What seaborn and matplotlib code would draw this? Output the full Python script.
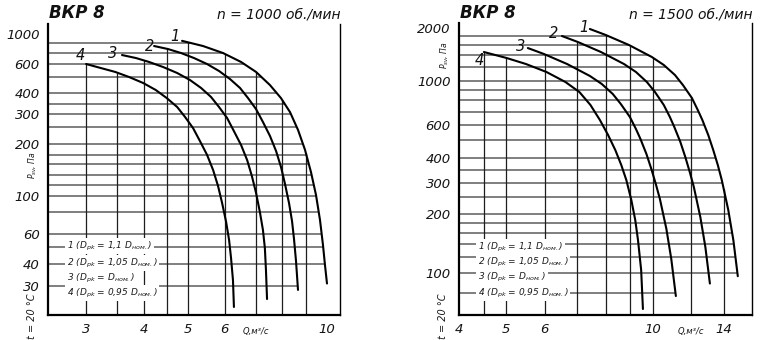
import numpy as np
import pandas as pd
import matplotlib
matplotlib.use('Agg')
import matplotlib.pyplot as plt
from matplotlib.ticker import NullLocator, NullFormatter
import seaborn as sns

# fan curves BKP 8, Q in m3/s, P_sv in Pa
# n = 1000 rpm
q_1000_1 = [4.846, 5.381, 5.948, 6.508, 7.013, 7.519, 7.945, 8.311, 8.650, 8.958, 9.231, 9.464,
            9.655, 9.800, 9.898, 9.998]
p_1000_1 = [890, 815, 723, 621, 537, 447, 373, 308, 242, 185, 137, 101, 72.3, 51.7, 39.5, 31]
q_1000_2 = [4.214, 4.518, 4.823, 5.145, 5.490, 5.830, 6.159, 6.475, 6.739, 7.013, 7.261, 7.519,
            7.752, 7.945, 8.106, 8.270, 8.395, 8.479, 8.564, 8.650]
p_1000_2 = [815, 774, 723, 664, 600, 544, 486, 429, 373, 321, 269, 223, 182, 147,
            117, 90.7, 71.4, 56.1, 41.7, 28.5]
q_1000_3 = [3.59, 3.85, 4.11, 4.41, 4.73, 5.04, 5.33, 5.60, 5.83, 6.07, 6.28, 6.51, 6.71, 6.87,
            7.013, 7.15, 7.26, 7.33, 7.37, 7.41]
p_1000_3 = [699, 664, 621, 575, 529, 480, 429, 379, 330, 284, 238, 197, 161, 130,
            104, 80.4, 63.3, 49.6, 37.0, 25.3]
q_1000_4 = [3.0, 3.23, 3.47, 3.72, 3.99, 4.25, 4.49, 4.73, 4.92, 5.12, 5.30, 5.49, 5.66, 5.80,
            5.92, 6.04, 6.13, 6.19, 6.25, 6.28]
p_1000_4 = [600, 567, 537, 500, 460, 417, 373, 330, 288, 248, 208, 173, 141, 114,
            90.7, 70.4, 55.3, 43.4, 32.4, 22.8]

# n = 1500 rpm
q_1500_1 = [7.43, 8.01, 8.94, 9.96, 10.54, 11.11, 11.54, 12.04, 12.38, 12.65, 13.01, 13.32,
            13.61, 13.87, 14.30, 14.65, 14.96]
p_1500_1 = [1974, 1825, 1601, 1369, 1233, 1082, 954, 821, 714, 636, 530, 441,
            369, 310, 211, 147, 96.5]
q_1500_2 = [6.51, 7.02, 7.83, 8.73, 9.24, 9.73, 10.11, 10.54, 10.85, 11.08, 11.40, 11.67,
            11.92, 12.15, 12.53, 12.83, 13.11]
p_1500_2 = [1801, 1665, 1461, 1249, 1125, 988, 880, 757, 658, 585, 487, 405,
            340, 285, 193, 136, 88.9]
q_1500_3 = [5.54, 5.98, 6.67, 7.43, 7.86, 8.28, 8.60, 8.98, 9.24, 9.44, 9.71, 9.94,
            10.15, 10.35, 10.67, 10.92, 11.16]
p_1500_3 = [1539, 1423, 1249, 1068, 966, 860, 766, 658, 571, 505, 420, 352,
            296, 243, 168, 118, 77.2]
q_1500_4 = [4.5, 5.01, 5.49, 6.05, 6.62, 7.07, 7.45, 7.79, 8.10, 8.38, 8.62, 8.83,
            9.04, 9.21, 9.33, 9.47, 9.55]
p_1500_4 = [1461, 1351, 1249, 1125, 988, 880, 757, 636, 530, 441, 369, 310,
            240, 186, 147, 103.6, 66.3]

curve_names = ['1', '2', '3', '4']
legend_rows = [r'1 ($D_{pk}$ = 1,1 $D_{ном.}$)',
               r'2 ($D_{pk}$ = 1,05 $D_{ном.}$)',
               r'3 ($D_{pk}$ = $D_{ном.}$)',
               r'4 ($D_{pk}$ = 0,95 $D_{ном.}$)']

# tick values / labels
yticks_1000 = [30, 40, 50, 60, 100, 200, 300, 400, 600, 1000]
ylabels_1000 = ['30', '40', '', '60', '100', '200', '300', '400', '600', '1000']
ygrid_1000 = [860, 720, 600, 500, 400, 345, 300, 250, 200, 173, 152, 132, 115,
              100, 80, 60, 50, 40, 30]
xticks_1000 = [3, 3.5, 4, 4.5, 5, 6, 7, 8, 9, 10]
xlabels_1000 = ['3', '', '4', '', '5', '6', '', '', '', '10']
xgrid_1000 = [3, 3.5, 4, 4.5, 5, 6, 7, 8, 9]

yticks_1500 = [80, 100, 200, 300, 400, 600, 1000, 2000]
ylabels_1500 = ['', '100', '200', '300', '400', '600', '1000', '2000']
ygrid_1500 = [1800, 1600, 1400, 1200, 1000, 900, 800, 700, 600, 500, 400, 350,
              300, 250, 200, 180, 160, 140, 120, 100, 80]
xticks_1500 = [4, 4.5, 5, 6, 7, 8, 9, 10, 12, 14, 16]
xlabels_1500 = ['4', '', '5', '6', '', '', '', '10', '', '14', '']
xgrid_1500 = [4.5, 5, 6, 7, 8, 9, 10, 12, 14]

# layout (figure pixels, 760x340)
W, H = 760, 340
# the printed pressure axis is not a clean log scale: pixel rows of labelled ticks
yscale_1000 = ([10, 30, 40, 60, 100, 200, 300, 400, 600, 1000, 3000],
               [370, 286, 264, 234, 195.7, 144, 114, 93, 64, 34, -37.6])
yscale_1500 = ([10, 80, 100, 200, 300, 400, 600, 1000, 2000, 5000],
               [470, 293, 273, 214, 183, 158, 125, 81, 28, -42])


def make_scale(vals, pix):
    lv = np.log10(vals)
    neg = -np.asarray(pix, float)

    def forward(v):
        v = np.asarray(v, float)
        v = np.where(v > 0, v, 1e-6)
        return np.interp(np.log10(v), lv, neg)

    def inverse(y):
        return 10 ** np.interp(np.asarray(y, float), neg, lv)
    return forward, inverse


def frame(curves):
    parts = [pd.DataFrame({'Q': q, 'P': p, 'curve': n}) for n, q, p in curves]
    return pd.concat(parts, ignore_index=True)


def q_edge(p, curves):
    # grid rows stop at the outermost curve
    best = None
    for _, q, pp in curves:
        if min(pp) <= p <= max(pp):
            v = 10 ** np.interp(np.log10(p), np.log10(pp[::-1]), np.log10(q[::-1]))
            best = v if best is None else max(best, v)
    return best


def p_edge(q, curves):
    best = None
    for _, qq, pp in curves:
        if min(qq) <= q <= max(qq):
            v = 10 ** np.interp(np.log10(q), np.log10(qq), np.log10(pp))
            best = v if best is None else max(best, v)
    return best


def draw_panel(fig, px_left, px_right, px_top, curves, yscale, xlim,
               yticks, ylabels, ygrid, xticks, xlabels, xgrid, q_label_x,
               title_n, label_offsets, legend_x, legend_y, ylab_pos, t_pos):
    px_bottom = 315
    ax = fig.add_axes([px_left / W, 1 - px_bottom / H,
                       (px_right - px_left) / W, (px_bottom - px_top) / H])
    fwd, inv = make_scale(*yscale)
    ax.set_xscale('log')
    ax.set_yscale('function', functions=(fwd, inv))
    ax.set_xlim(*xlim)
    ax.set_ylim(inv(-px_bottom), inv(-px_top))

    xmin = xlim[0]
    ymin = inv(-px_bottom)
    for p in ygrid:
        qe = q_edge(p, curves)
        if qe is not None:
            ax.hlines(p, xmin, qe, color='#5c5c5c', lw=1.1, zorder=1)
    for q in xgrid:
        pe = p_edge(q, curves)
        if pe is not None:
            ax.vlines(q, ymin, pe, color='#1e1e1e', lw=0.9, zorder=1)

    df = frame(curves)
    sns.lineplot(data=df, x='Q', y='P', units='curve', estimator=None,
                 sort=False, color='black', linewidth=1.5, ax=ax, legend=False,
                 zorder=3)

    for (name, q, p), off in zip(curves, label_offsets):
        ax.annotate(name, xy=(q[0], p[0]), xytext=off, textcoords='offset pixels',
                    ha='center', va='center', fontsize=10.5, color='#111111')

    ax.xaxis.set_minor_locator(NullLocator())
    ax.xaxis.set_minor_formatter(NullFormatter())
    ax.yaxis.set_minor_locator(NullLocator())
    ax.yaxis.set_minor_formatter(NullFormatter())
    ax.set_xticks(xticks, xlabels)
    ax.set_yticks(yticks, ylabels)
    ax.tick_params(direction='out', length=4, width=1, colors='black',
                   labelsize=9.5, pad=2, labelcolor='#141414')
    ax.set_xlabel('')
    ax.set_ylabel('')
    ax.annotate('Q,м³/с', xy=(q_label_x, 0), xycoords=('data', 'axes fraction'),
                xytext=(0, -12), textcoords='offset points', ha='center',
                va='center', fontsize=6, color='#141414')

    ax.spines['top'].set_visible(False)
    ax.spines['left'].set_linewidth(1.6)
    ax.spines['bottom'].set_linewidth(1.6)
    ax.spines['right'].set_linewidth(1.0)
    for s in ax.spines.values():
        s.set_color('black')

    fig.text(px_left / W + 0.001, 1 - 13 / H, 'ВКР 8', fontsize=12,
             fontweight='bold', ha='left', va='center', color='#111111')
    fig.text((px_right + 1) / W, 1 - 14 / H, title_n, fontsize=10,
             ha='right', va='center', color='#111111')

    for row, y in zip(legend_rows, legend_y):
        fig.text(legend_x / W, 1 - y / H, row, fontsize=6.5, ha='left',
                 va='center', color='#1a1a1a',
                 bbox=dict(facecolor='white', edgecolor='none', pad=1.2))

    fig.text(ylab_pos[0] / W, 1 - ylab_pos[1] / H, r'$P_{sv}$, Па', fontsize=5.5,
             rotation=90, ha='center', va='center', color='#1a1a1a')
    fig.text(t_pos[0] / W, 1 - t_pos[1] / H, 't = 20 °C', fontsize=7,
             rotation=90, ha='center', va='center', color='#1a1a1a')
    return ax


def main():
    sns.set_theme(style='white')
    plt.rcParams['font.family'] = ['DejaVu Sans']
    plt.rcParams['font.style'] = 'italic'
    plt.rcParams['mathtext.fontset'] = 'dejavusans'

    fig = plt.figure(figsize=(7.6, 3.4), dpi=100)
    fig.patch.set_facecolor('white')

    curves_1000 = [('1', q_1000_1, p_1000_1), ('2', q_1000_2, p_1000_2),
                   ('3', q_1000_3, p_1000_3), ('4', q_1000_4, p_1000_4)]
    curves_1500 = [('1', q_1500_1, p_1500_1), ('2', q_1500_2, p_1500_2),
                   ('3', q_1500_3, p_1500_3), ('4', q_1500_4, p_1500_4)]

    draw_panel(fig, 48, 340, 24, curves_1000, yscale_1000, (2.48, 10.67),
               yticks_1000, ylabels_1000, ygrid_1000, xticks_1000, xlabels_1000,
               xgrid_1000, 7, 'n = 1000 об./мин',
               [(-7, 4), (-5, 0), (-9, 2), (-6, 8)],
               67, [246, 263, 278, 293], (33, 165), (32, 316))
    draw_panel(fig, 459, 752, 23, curves_1500, yscale_1500, (4, 16),
               yticks_1500, ylabels_1500, ygrid_1500, xticks_1500, xlabels_1500,
               xgrid_1500, 12, 'n = 1500 об./мин',
               [(-6, 2), (-8, 3), (-7, 2), (-5, -8)],
               478, [247, 262, 277, 293], (445, 55), (443, 316))

    fig.savefig('out.png', dpi=100, facecolor='white')


if __name__ == '__main__':
    main()
